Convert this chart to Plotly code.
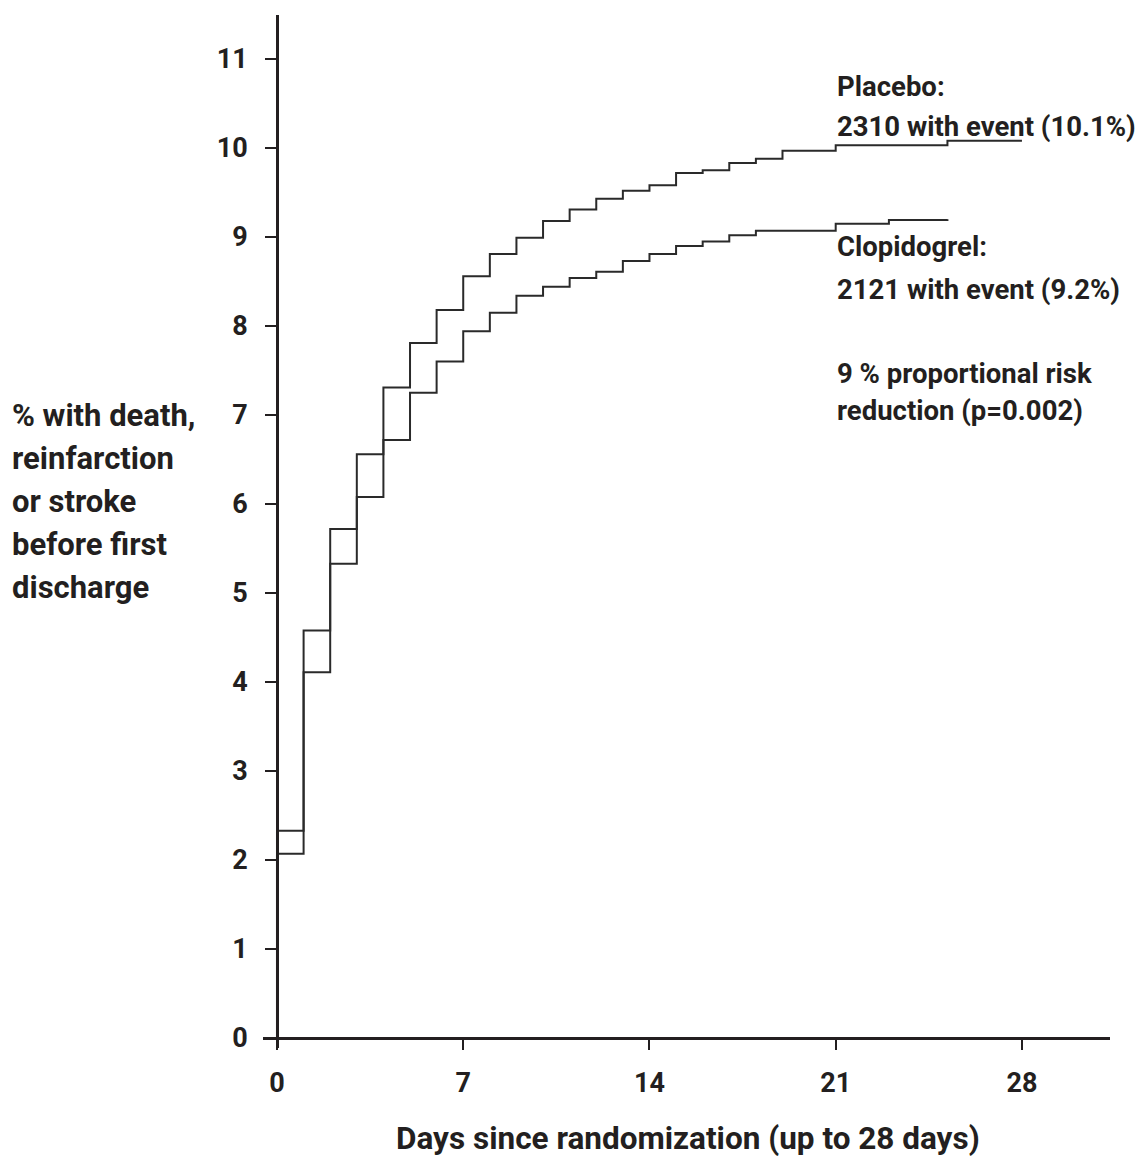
import plotly.graph_objects as go

# ---- data ----
placebo_days = [0, 0, 1, 2, 3, 4, 5, 6, 7, 8, 9, 10, 11, 12, 13, 14, 15, 16, 17, 18, 19, 21, 25.2, 28]
placebo_pct = [0, 2.33, 4.58, 5.72, 6.56, 7.31, 7.81, 8.18, 8.56, 8.81, 8.99, 9.18, 9.31, 9.43, 9.52,
               9.58, 9.72, 9.75, 9.83, 9.88, 9.97, 10.03, 10.08, 10.08]

clopi_days = [0, 0, 1, 2, 3, 4, 5, 6, 7, 8, 9, 10, 11, 12, 13, 14, 15, 16, 17, 18, 21, 23, 25.2]
clopi_pct = [0, 2.07, 4.11, 5.33, 6.08, 6.72, 7.25, 7.60, 7.94, 8.15, 8.34, 8.44, 8.54, 8.61, 8.73,
             8.81, 8.90, 8.95, 9.02, 9.07, 9.15, 9.19, 9.20]

x_ticks = [0, 7, 14, 21, 28]
y_ticks = list(range(0, 12))

y_title_lines = ['% with death,', 'reinfarction', 'or stroke', 'before first', 'discharge']
right_text = [
    ('Placebo:', 87),
    ('2310 with event (10.1%)', 126),
    ('Clopidogrel:', 247),
    ('2121 with event (9.2%)', 289),
    ('9 % proportional risk', 373),
    ('reduction (p=0.002)', 410),
]
x_title = 'Days since randomization (up to 28 days)'

# ---- layout geometry (screen pixels; the page body adds an 8px margin) ----
OFF = 8
W, H = 1145 - OFF, 1158 - OFF
L, R, T, B = 263 - OFF, 35, 15 - OFF, 110
PW, PH = W - L - R, H - T - B
FONT = 'Roboto, Arial, sans-serif'
INK = '#231f20'


def px(x):
    return (x - OFF - L) / PW


def py(y):
    return (H - B - (y - OFF)) / PH


fig = go.Figure()
for days, pct in [(placebo_days, placebo_pct), (clopi_days, clopi_pct)]:
    fig.add_trace(go.Scatter(
        x=days, y=pct, mode='lines', line_shape='hv',
        line=dict(color='#2a2a2a', width=2), showlegend=False, hoverinfo='skip',
    ))

tickfont = dict(family=FONT, size=27, color=INK, weight=700)
fig.update_xaxes(
    range=[-0.526, 31.31], tickvals=x_ticks, ticks='outside', ticklen=10, tickwidth=2,
    tickcolor=INK, showline=True, linecolor=INK, linewidth=2.5, showgrid=False,
    zeroline=False, anchor='free', position=py(1038), tickfont=tickfont,
    ticklabelstandoff=10,
)
fig.update_yaxes(
    range=[-0.112, 11.494], tickvals=y_ticks, ticks='outside', ticklen=11, tickwidth=2,
    tickcolor=INK, showline=True, linecolor=INK, linewidth=2.5, showgrid=False,
    zeroline=False, anchor='free', position=px(277), tickfont=tickfont,
    ticklabelstandoff=12,
)

annos = []
for i, line in enumerate(y_title_lines):
    annos.append(dict(text=line, x=px(10), y=py(415 + i * 43), xanchor='left', yanchor='middle',
                      font=dict(family=FONT, size=31, color=INK, weight=700)))
for line, yy in right_text:
    annos.append(dict(text=line, x=px(835), y=py(yy), xanchor='left', yanchor='middle',
                      font=dict(family=FONT, size=27.5, color=INK, weight=700)))
annos.append(dict(text=x_title, x=px(688), y=py(1138), xanchor='center', yanchor='middle',
                  font=dict(family=FONT, size=31.5, color=INK, weight=700)))
for a in annos:
    a.update(xref='paper', yref='paper', showarrow=False)

fig.update_layout(
    width=W, height=H, margin=dict(l=L, r=R, t=T, b=B),
    plot_bgcolor='white', paper_bgcolor='white', annotations=annos,
)

fig.write_html('out.html')
